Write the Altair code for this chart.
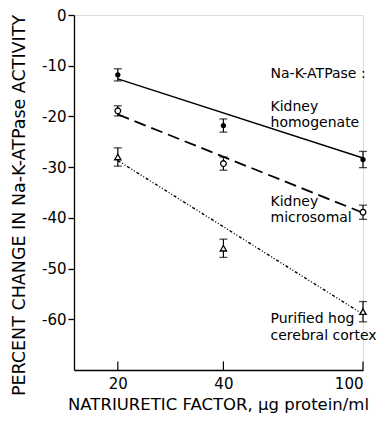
import altair as alt
import pandas as pd

# ---- data ----
conc = [20, 40, 100]
series = ["homogenate", "microsomal", "hog"]
homog = [-11.8, -21.8, -28.5]
homog_err = [1.2, 1.3, 1.6]
micro = [-18.9, -29.3, -38.9]
micro_err = [1.0, 1.3, 1.4]
hog = [-28.0, -46.0, -58.5]
hog_err = [1.8, 1.8, 2.0]

# fitted lines: value at 20 and at 100
fit_x = [20, 100]
homog_fit = [-12.6, -28.2]
micro_fit = [-19.6, -39.0]
hog_fit = [-28.7, -59.0]

label_x = [54.5] * 7
label_y = [-11.6, -18.1, -21.2, -36.9, -40.0, -60.0, -63.2]
label_text = ["Na-K-ATPase :", "Kidney", "homogenate", "Kidney", "microsomal",
              "Purified hog", "cerebral cortex"]

FONT = "DejaVu Sans"

rows = []
for name, vals, errs in [("homogenate", homog, homog_err),
                         ("microsomal", micro, micro_err),
                         ("hog", hog, hog_err)]:
    for c, v, e in zip(conc, vals, errs):
        rows.append({"conc": c, "val": v, "lo": v - e, "hi": v + e, "series": name})
pts = pd.DataFrame(rows)

fits = pd.DataFrame(
    [{"conc": x, "val": v, "series": "homogenate"} for x, v in zip(fit_x, homog_fit)]
    + [{"conc": x, "val": v, "series": "microsomal"} for x, v in zip(fit_x, micro_fit)]
    + [{"conc": x, "val": v, "series": "hog"} for x, v in zip(fit_x, hog_fit)]
)
labels = pd.DataFrame({"x": label_x, "y": label_y, "t": label_text})
xt = pd.DataFrame({"conc": conc, "y0": [-70] * 3, "y1": [-68.3] * 3})

xscale = alt.Scale(type="log", domain=[15, 100], nice=False)
yscale = alt.Scale(domain=[-70, 0], nice=False)

xax = alt.Axis(values=conc, ticks=False, tickSize=0, labelPadding=6, grid=False,
               title="NATRIURETIC FACTOR, μg protein/ml", titleFont=FONT,
               titleFontSize=16.5, titleFontWeight="normal", titleColor="black",
               titleX=144, titleY=34, titleBaseline="middle",
               labelFont=FONT, labelFontSize=15, labelColor="black",
               domainColor="black", domainWidth=1.3, format="d")
yax = alt.Axis(values=[0, -10, -20, -30, -40, -50, -60], tickSize=6, tickColor="black",
               tickWidth=1.3, labelPadding=2, grid=False,
               labelExpr="datum.value == 0 ? '0' : '-' + abs(datum.value)",
               title="PERCENT CHANGE IN Na-K-ATPase ACTIVITY", titleFont=FONT,
               titleFontSize=17.5, titleFontWeight="normal", titleColor="black",
               titleAngle=-90, titleX=-55, titleY=190, titleAlign="center",
               titleBaseline="middle",
               labelFont=FONT, labelFontSize=15, labelColor="black",
               domainColor="black", domainWidth=1.3)

X = alt.X("conc:Q", scale=xscale, axis=xax)
Y = alt.Y("val:Q", scale=yscale, axis=yax)

base_fit = alt.Chart(fits)
line_h = base_fit.transform_filter(alt.datum.series == "homogenate").mark_line(
    color="black", strokeWidth=1.5).encode(x=X, y=Y)
line_m = base_fit.transform_filter(alt.datum.series == "microsomal").mark_line(
    color="black", strokeWidth=1.8, strokeDash=[12, 6]).encode(x=X, y=Y)
line_p = base_fit.transform_filter(alt.datum.series == "hog").mark_line(
    color="black", strokeWidth=1.4, strokeDash=[3, 2, 1, 2, 1, 2]).encode(x=X, y=Y)

bp = alt.Chart(pts)
bars = bp.mark_rule(color="black", strokeWidth=1.2).encode(
    x="conc:Q", y=alt.Y("lo:Q"), y2="hi:Q")
cap_lo = bp.mark_tick(color="black", orient="horizontal", size=8, thickness=1.3).encode(
    x="conc:Q", y="lo:Q")
cap_hi = bp.mark_tick(color="black", orient="horizontal", size=8, thickness=1.3).encode(
    x="conc:Q", y="hi:Q")

m_h = bp.transform_filter(alt.datum.series == "homogenate").mark_point(
    shape="circle", filled=True, color="black", size=28, opacity=1).encode(x="conc:Q", y="val:Q")
m_m = bp.transform_filter(alt.datum.series == "microsomal").mark_point(
    shape="circle", filled=True, fill="white", stroke="black", strokeWidth=1.3,
    size=32, opacity=1).encode(x="conc:Q", y="val:Q")
m_p = bp.transform_filter(alt.datum.series == "hog").mark_point(
    shape="triangle-up", filled=True, fill="white", stroke="black", strokeWidth=1.3,
    size=40, opacity=1).encode(x="conc:Q", y="val:Q")

xticks = alt.Chart(xt).mark_rule(color="black", strokeWidth=1.2).encode(
    x="conc:Q", y="y0:Q", y2="y1:Q")

txt = alt.Chart(labels).mark_text(align="left", baseline="middle", font=FONT,
                                  fontSize=14, color="black").encode(
    x="x:Q", y="y:Q", text="t:N")

chart = alt.layer(line_h, line_m, line_p, bars, cap_lo, cap_hi, m_h, m_m, m_p,
                  xticks, txt).properties(
    width=289, height=355,
    autosize=alt.AutoSizeParams(type="none"),
    padding={"left": 66, "top": 7, "right": 15, "bottom": 44},
).configure_view(stroke=None).configure(background="white")

chart.save("out.html", embed_options={"renderer": "svg", "actions": False})
